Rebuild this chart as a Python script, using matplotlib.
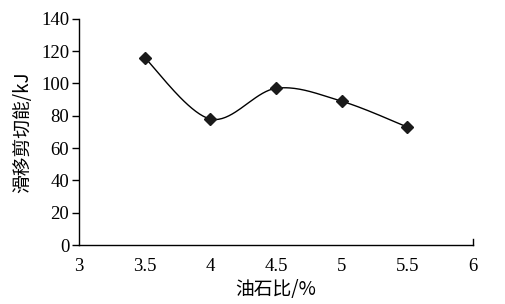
import numpy as np
import matplotlib
matplotlib.use("Agg")
import matplotlib.pyplot as plt

oil_ratio = [3.5, 4.0, 4.5, 5.0, 5.5]
shear_energy = [116, 78, 97, 89, 73]
x_ticks = [3, 3.5, 4, 4.5, 5, 5.5, 6]
x_tick_labels = ["3", "3.5", "4", "4.5", "5", "5.5", "6"]
y_ticks = [0, 20, 40, 60, 80, 100, 120, 140]

plt.rcParams['font.family'] = ['Liberation Serif', 'Noto Sans CJK SC']
plt.rcParams['mathtext.fontset'] = 'custom'

def smooth(xs, ys, n=40):
    P = np.column_stack([xs, ys]).astype(float)
    P_ext = np.vstack([P[0], P, P[-1]])
    out = []
    t = np.linspace(0, 1, n)[:, None]
    for i in range(1, len(P_ext) - 2):
        p0, p1, p2, p3 = P_ext[i - 1], P_ext[i], P_ext[i + 1], P_ext[i + 2]
        c1 = p1 + (p2 - p0) / 6.0
        c2 = p2 - (p3 - p1) / 6.0
        seg = ((1 - t) ** 3) * p1 + 3 * ((1 - t) ** 2) * t * c1 + 3 * (1 - t) * t ** 2 * c2 + t ** 3 * p2
        out.append(seg if i == 1 else seg[1:])
    S = np.vstack(out)
    return S[:, 0], S[:, 1]

fig = plt.figure(figsize=(5.06, 3.04), dpi=100)
ax = fig.add_axes([0.156, 0.194, 0.779, 0.744])

sx, sy = smooth(oil_ratio, shear_energy)
ax.plot(sx, sy, color='black', lw=1.0)
ax.plot(oil_ratio, shear_energy, linestyle='none', marker='D', markersize=6.5,
        color='#1a1a1a')

ax.set_xlim(3, 6)
ax.set_ylim(0, 140)
ax.set_xticks(x_ticks)
ax.set_xticklabels(x_tick_labels)
ax.set_yticks(y_ticks)
ax.spines['top'].set_visible(False)
ax.spines['right'].set_visible(False)
for s in ['left', 'bottom']:
    ax.spines[s].set_linewidth(1.0)
ax.tick_params(axis='y', direction='out', length=5, width=1.0, labelsize=13.5, pad=2)
ax.tick_params(axis='x', length=0, labelsize=13.5, pad=9)
# small end tick at x = 6
ax.plot([6, 6], [0, 4], color='black', lw=1.0, clip_on=False)

ax.set_xlabel('油石比/%', fontsize=13.5, labelpad=3,
              family=['Noto Sans CJK SC', 'Liberation Serif'], fontweight='light')
ax.set_ylabel('滑移剪切能/kJ', fontsize=13.5, labelpad=6,
              family=['Noto Sans CJK SC', 'Liberation Serif'], fontweight='light')

fig.savefig('out.png', dpi=100)
